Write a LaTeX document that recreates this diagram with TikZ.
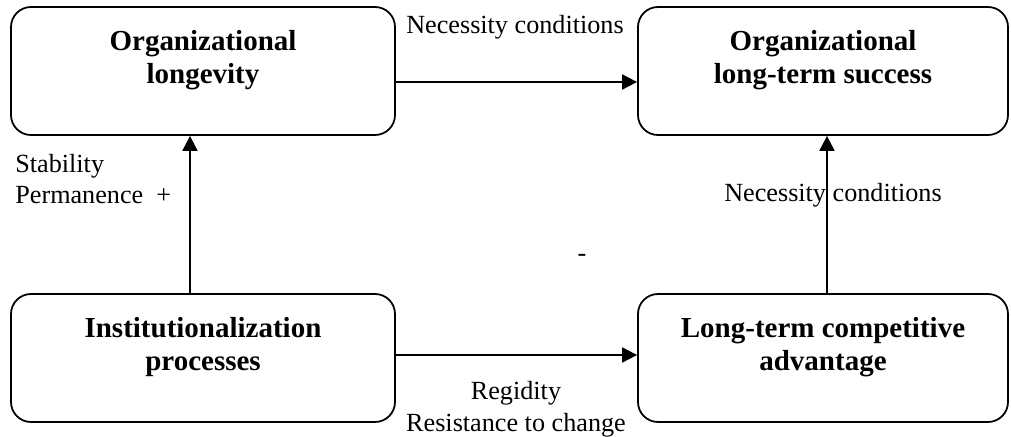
\documentclass[tikz,border=0pt]{standalone}
\usepackage{fontspec}
\setmainfont{Liberation Serif}
\usepackage{tikz}
\usetikzlibrary{arrows.meta}
\usetikzlibrary{positioning}
\tikzset{
	box/.style={draw, line width=1pt, rounded corners=0.4cm, minimum width=7.68cm, minimum height=2.56cm, inner sep=0pt},
	boxtext/.style={align=center, inner sep=0pt, font=\fontsize{16.5}{18.8}\selectfont\bfseries},
	lbl/.style={inner sep=0pt, font=\fontsize{14.9}{18}\selectfont},
	link/.style={line width=1pt, -{Triangle[length=0.3cm, width=0.3cm]}}
}

\begin{document}
\begin{tikzpicture}
	\useasboundingbox (0,0) rectangle (20.22,8.74);
	\node[box] (lon) at (4.06,7.32){};%top left
	\node[box, minimum width=7.4cm] (suc) at (16.46,7.32){};%top right
	\node[box] (ins) at (4.06,1.58){};%bottom left
	\node[box, minimum width=7.4cm] (adv) at (16.46,1.58){};%bottom right
	\node[boxtext] (lontxt) at ([yshift=0.22cm]lon.center){Organizational\\longevity};
	\node[boxtext] (suctxt) at ([yshift=0.22cm]suc.center){Organizational\\long-term success};
	\node[boxtext] (instxt) at ([yshift=0.22cm]ins.center){Institutionalization\\processes};
	\node[boxtext] (advtxt) at ([yshift=0.22cm]adv.center){Long-term competitive\\advantage};
	\draw[link] ([yshift=-0.22cm]lon.east) -- ([yshift=-0.22cm]suc.west);
	\draw[link] ([yshift=0.06cm]ins.east) -- ([yshift=0.06cm]adv.west);
	\draw[link] ([xshift=-0.26cm]ins.north) -- ([xshift=-0.26cm]lon.south);
	\draw[link] ([xshift=0.08cm]adv.north) -- ([xshift=0.08cm]suc.south);
	\node[lbl] (nectop) at (10.3,8.19){Necessity conditions};
	\node[lbl, align=left, anchor=west] (stab) at (0.3,5.16){Stability\\Permanence~ +};
	\node[lbl] (necright) at (16.66,4.84){Necessity conditions};
	\node[lbl] (minus) at (11.64,3.58){-};
	\node[lbl, align=center] (rig) at (10.32,0.55){Regidity\\Resistance to change};
\end{tikzpicture}
\end{document}
